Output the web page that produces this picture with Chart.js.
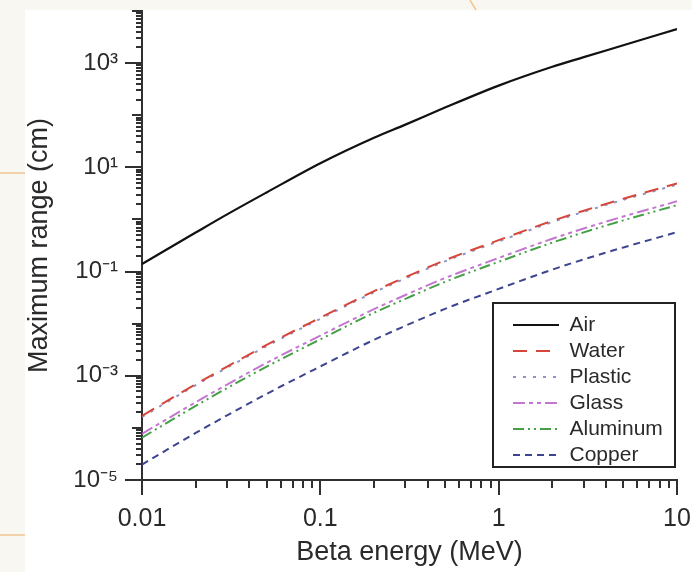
<!DOCTYPE html>
<html>
<head>
<meta charset="utf-8">
<title>Maximum range of beta particles</title>
<script src="https://cdn.jsdelivr.net/npm/chart.js@4.4.1/dist/chart.umd.min.js"></script>
<style>
  html, body { margin: 0; padding: 0; background: #fff; }
  #wrap { width: 692px; height: 572px; }
</style>
</head>
<body>
<div id="wrap"><canvas id="rangeChart" width="692" height="572"></canvas></div>
<script>
// beta energy (MeV)
let energies = [0.01, 0.02, 0.03, 0.05, 0.1, 0.2, 0.3, 0.5, 1, 2, 3, 5, 10]

// maximum range (cm)
let air      = [0.14, 0.56, 1.25, 3.3, 12, 37, 66, 140, 370, 850, 1300, 2200, 4500]
let water    = [1.7e-4, 6.9e-4, 1.5e-3, 3.9e-3, 1.3e-2, 4.2e-2, 7.8e-2, 0.165, 0.40, 0.94, 1.47, 2.5, 4.9]
let plastic  = [1.62e-4, 6.6e-4, 1.43e-3, 3.7e-3, 1.24e-2, 4.0e-2, 7.4e-2, 0.157, 0.38, 0.89, 1.40, 2.38, 4.65]
let glass    = [7.7e-5, 3.1e-4, 6.8e-4, 1.77e-3, 5.9e-3, 1.9e-2, 3.55e-2, 7.5e-2, 0.182, 0.427, 0.67, 1.14, 2.23]
let aluminum = [6.5e-5, 2.65e-4, 5.8e-4, 1.5e-3, 5.0e-3, 1.62e-2, 3.0e-2, 6.35e-2, 0.154, 0.36, 0.565, 0.96, 1.88]
let copper   = [1.98e-5, 8.0e-5, 1.74e-4, 4.5e-4, 1.51e-3, 4.9e-3, 9.1e-3, 1.92e-2, 4.65e-2, 0.109, 0.171, 0.29, 0.57]

let xLabelValues = [0.01, 0.1, 1, 10]
let xTickLabels = ["0.01", "0.1", "1", "10"]
let yLabelValues = [1e-5, 1e-3, 1e-1, 1e1, 1e3]
let yTickLabels = ["10\u207B\u2075", "10\u207B\u00B3", "10\u207B\u00B9", "10\u00B9", "10\u00B3"]

let fontFamily = "'Liberation Sans', Arial, Helvetica, sans-serif"
let textColor = "#2a2a2a"

function toPoints(values){
    return energies.map((e, idx) => ({x: e, y: values[idx]}))
}

function logTicks(fromExp, toExp){
    let out = []
    for(let e = fromExp; e < toExp; e++){
        for(let m = 1; m <= 9; m++){
            out.push({value: m * Math.pow(10, e)})
        }
    }
    out.push({value: Math.pow(10, toExp)})
    return out
}

function findLabel(value, values, labels){
    let idx = values.findIndex(v => Math.abs(v - value) / v < 1e-6)
    return idx >= 0 ? labels[idx] : null
}

function isDecade(value){
    let e = Math.round(Math.log10(value))
    return Math.abs(value / Math.pow(10, e) - 1) < 1e-6
}

// the scanned page edge round the figure
const pageEdge = {
    id: "pageEdge",
    beforeDraw(chart){
        let {ctx, width, height} = chart
        ctx.save()
        ctx.fillStyle = "#f9f7f2"
        ctx.fillRect(0, 0, width, height)
        ctx.fillStyle = "#ffffff"
        ctx.fillRect(25, 10, width - 25, height - 10)
        ctx.strokeStyle = "#f0c690"
        ctx.lineWidth = 1.5
        ctx.beginPath()
        ctx.moveTo(0, 173)
        ctx.lineTo(25, 173)
        ctx.moveTo(0, 535)
        ctx.lineTo(25, 535)
        ctx.moveTo(470, 0)
        ctx.lineTo(476, 10)
        ctx.stroke()
        ctx.restore()
    }
}

// tick marks with long / medium / short lengths
const tickMarks = {
    id: "tickMarks",
    afterDraw(chart){
        let {ctx, chartArea, scales} = chart
        ctx.save()
        ctx.strokeStyle = "#303030"
        ctx.lineWidth = 2
        ctx.beginPath()
        logTicks(-2, 1).forEach(t => {
            let px = Math.round(scales.x.getPixelForValue(t.value))
            let len = isDecade(t.value) ? 15 : 8
            ctx.moveTo(px, chartArea.bottom)
            ctx.lineTo(px, chartArea.bottom + len)
        })
        logTicks(-5, 4).forEach(t => {
            let py = Math.round(scales.y.getPixelForValue(t.value))
            let len = 6
            if(isDecade(t.value)){
                len = findLabel(t.value, yLabelValues, yTickLabels) ? 17 : 10
            }
            ctx.moveTo(chartArea.left, py)
            ctx.lineTo(chartArea.left - len, py)
        })
        ctx.stroke()

        // legend frame
        ctx.lineWidth = 2
        ctx.strokeStyle = "#222"
        ctx.strokeRect(493, 303, 182, 164)
        ctx.restore()
    }
}

// move the legend into the lower right of the plot
const legendSpot = {
    id: "legendSpot",
    afterLayout(chart){
        let lg = chart.legend
        lg.left = 508
        lg.top = 309.5
        lg.right = 692
        lg.bottom = 572
    }
}

function legendItems(chart){
    let items = Chart.defaults.plugins.legend.labels.generateLabels(chart)
    return items.map(item => {
        let ds = chart.data.datasets[item.datasetIndex]
        item.pointStyle = "line"
        item.lineDash = ds.borderDash || []
        item.lineWidth = ds.borderWidth
        item.strokeStyle = ds.borderColor
        item.fillStyle = ds.borderColor
        return item
    })
}

let rangeChart = new Chart(document.getElementById("rangeChart"),
{
    type: "line",
    data: {
        datasets: [
            {
                label: "Air",
                data: toPoints(air),
                borderColor: "#111111",
                borderWidth: 2.2
            },
            {
                label: "Water",
                data: toPoints(water),
                borderColor: "#d6463a",
                borderWidth: 2,
                borderDash: [14, 9]
            },
            {
                label: "Plastic",
                data: toPoints(plastic),
                borderColor: "#8f93c4",
                borderWidth: 2,
                borderDash: [3, 7]
            },
            {
                label: "Glass",
                data: toPoints(glass),
                borderColor: "#c477d0",
                borderWidth: 2,
                borderDash: [12, 4, 4, 4, 4, 4]
            },
            {
                label: "Aluminum",
                data: toPoints(aluminum),
                borderColor: "#44a045",
                borderWidth: 2,
                borderDash: [11, 4, 2, 4, 2, 4]
            },
            {
                label: "Copper",
                data: toPoints(copper),
                borderColor: "#3d4590",
                borderWidth: 2,
                borderDash: [7, 5]
            }
        ]
    },
    options: {
        responsive: false,
        animation: false,
        devicePixelRatio: 1,
        layout: {
            padding: {top: 11, right: 15, left: 0, bottom: 0}
        },
        elements: {
            point: {radius: 0, hoverRadius: 0},
            line: {cubicInterpolationMode: "monotone", fill: false}
        },
        scales: {
            x: {
                type: "logarithmic",
                min: 0.01,
                max: 10,
                afterBuildTicks: scale => { scale.ticks = logTicks(-2, 1) },
                afterFit: scale => {
                    scale.height = 92
                    scale.paddingLeft = 0
                    scale.paddingRight = 0
                },
                grid: {display: false, drawTicks: false},
                border: {display: true, color: "#303030", width: 2},
                ticks: {
                    autoSkip: false,
                    maxRotation: 0,
                    padding: 24,
                    color: textColor,
                    font: {family: fontFamily, size: 25},
                    callback: value => findLabel(value, xLabelValues, xTickLabels)
                },
                title: {
                    display: true,
                    text: "Beta energy (MeV)",
                    color: textColor,
                    font: {family: fontFamily, size: 27},
                    padding: {top: 0, bottom: 3}
                }
            },
            y: {
                type: "logarithmic",
                min: 1e-5,
                max: 1e4,
                afterBuildTicks: scale => { scale.ticks = logTicks(-5, 4) },
                afterFit: scale => {
                    scale.width = 142
                    scale.paddingTop = 0
                    scale.paddingBottom = 0
                },
                grid: {display: false, drawTicks: false},
                border: {display: true, color: "#303030", width: 2},
                ticks: {
                    autoSkip: false,
                    padding: 24,
                    color: textColor,
                    font: {family: fontFamily, size: 24},
                    callback: value => findLabel(value, yLabelValues, yTickLabels)
                },
                title: {
                    display: true,
                    text: "Maximum range (cm)",
                    color: textColor,
                    font: {family: fontFamily, size: 27},
                    padding: {top: 23, bottom: 0}
                }
            }
        },
        plugins: {
            tooltip: {enabled: false},
            legend: {
                position: "chartArea",
                align: "start",
                labels: {
                    usePointStyle: true,
                    pointStyleWidth: 46,
                    padding: 5,
                    color: textColor,
                    font: {family: fontFamily, size: 21},
                    generateLabels: legendItems
                }
            }
        }
    },
    plugins: [pageEdge, legendSpot, tickMarks]
})
</script>
</body>
</html>
